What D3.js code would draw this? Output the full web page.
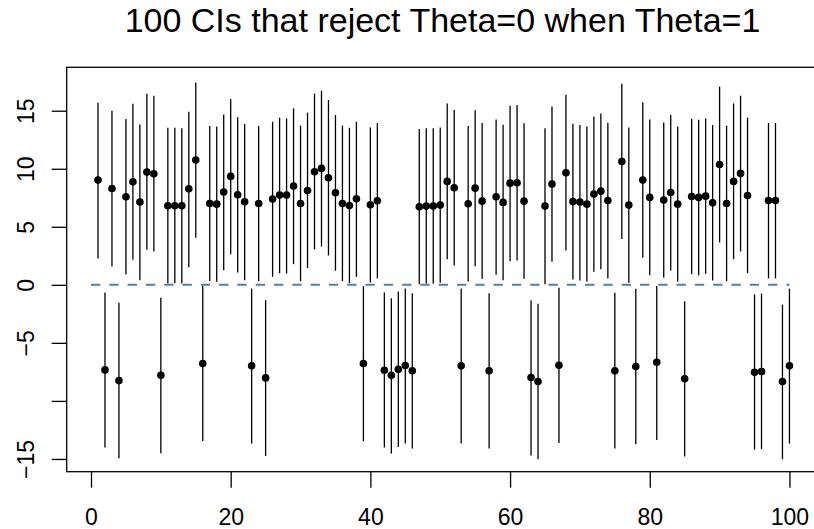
<!DOCTYPE html>
<html lang="en">
<head>
<meta charset="UTF-8">
<title>100 CIs</title>
<style>
  html, body { margin: 0; padding: 0; background: #fff; }
  svg { display: block; font-family: "Liberation Sans", Arial, sans-serif; }
</style>
</head>
<body>
<svg width="814" height="529"></svg>
<script src="https://d3js.org/d3.v7.min.js"></script>
<script>
// interval estimates, index 1..100
const centers = [
  9.02, -7.33, 8.30, -8.25, 7.59, 8.88, 7.13, 9.71, 9.57, -7.79,
  6.81, 6.81, 6.81, 8.28, 10.75, -6.78, 7.01, 6.95, 7.99, 9.34,
  7.76, 7.16, -6.98, 7.01, -8.02, 7.39, 7.73, 7.73, 8.51, 7.01,
  8.13, 9.74, 10.03, 9.22, 7.93, 7.01, 6.84, 7.41, -6.78, 6.90,
  7.24, -7.36, -7.79, -7.27, -6.95, -7.41, 6.72, 6.78, 6.78, 6.87,
  8.91, 8.36, -6.98, 6.98, 8.33, 7.21, -7.41, 7.59, 7.10, 8.76,
  8.79, 7.21, -7.99, -8.33, 6.78, 8.68, -6.93, 9.66, 7.18, 7.13,
  6.95, 7.82, 8.07, 7.27, -7.41, 10.63, 6.87, -7.04, 9.02, 7.53,
  -6.67, 7.30, 7.96, 6.95, -8.10, 7.61, 7.53, 7.64, 7.07, 10.37,
  7.01, 8.91, 9.60, 7.70, -7.53, -7.47, 7.27, 7.27, -8.33, -6.98
];
const lowers = [
  2.27, -14.02, 1.58, -14.94, 0.89, 2.16, 0.40, 3.02, 2.87, -14.51,
  0.14, 0.14, 0.11, 1.52, 4.05, -13.45, 0.32, 0.26, 1.26, 2.64,
  1.06, 0.40, -13.68, 0.32, -14.74, 0.69, 1.00, 0.98, 1.78, 0.32,
  1.44, 3.05, 3.30, 2.53, 1.21, 0.32, 0.14, 0.69, -13.48, 0.20,
  0.55, -14.02, -14.54, -13.97, -13.68, -14.11, 0.06, 0.11, 0.11, 0.17,
  2.21, 1.67, -13.68, 0.29, 1.61, 0.52, -14.11, 0.86, 0.40, 2.04,
  2.10, 0.52, -14.71, -15.03, 0.06, 1.98, -13.62, 2.96, 0.46, 0.37,
  0.26, 1.12, 1.35, 0.55, -14.11, 3.94, 0.17, -13.74, 2.33, 0.83,
  -13.36, 0.60, 1.24, 0.26, -14.80, 0.92, 0.83, 0.95, 0.37, 3.65,
  0.32, 2.21, 2.87, 1.00, -14.20, -14.14, 0.55, 0.55, -15.03, -13.68
];
const uppers = [
  15.69, -0.66, 15.00, -1.55, 14.28, 15.60, 13.82, 16.47, 16.29, -1.12,
  13.53, 13.53, 13.48, 14.91, 17.44, -0.11, 13.68, 13.65, 14.68, 16.00,
  14.43, 13.85, -0.32, 13.68, -1.32, 14.05, 14.40, 14.34, 15.20, 13.71,
  14.83, 16.47, 16.72, 15.92, 14.63, 13.71, 13.53, 14.05, -0.11, 13.56,
  13.94, -0.66, -1.15, -0.57, -0.32, -0.72, 13.42, 13.48, 13.48, 13.56,
  15.63, 15.06, -0.32, 13.68, 15.03, 13.94, -0.72, 14.25, 13.79, 15.43,
  15.49, 13.91, -1.32, -1.64, 13.48, 15.37, -0.26, 16.38, 13.88, 13.76,
  13.65, 14.51, 14.77, 13.97, -0.69, 17.33, 13.56, -0.34, 15.72, 14.25,
  -0.11, 13.99, 14.66, 13.65, -1.41, 14.31, 14.22, 14.34, 13.76, 17.07,
  13.71, 15.63, 16.29, 14.40, -0.83, -0.75, 13.94, 13.94, -1.70, -0.32
];
const theta0 = 0;
const xTicks = [0, 20, 40, 60, 80, 100];
const yTicks = [-15, -10, -5, 0, 5, 10, 15];
const yTickLabels = ["\u221215", "", "\u22125", "0", "5", "10", "15"];
const title = "100 CIs that reject Theta=0 when Theta=1";

const svg = d3.select("svg");
const plotL = 66.7, plotR = 822, plotT = 67.3, plotB = 471.7;

const x = d3.scaleLinear().domain([-3.48, 104.66]).range([plotL, plotR]);
const y = d3.scaleLinear().domain([-16.1, 18.74]).range([plotB, plotT]);

const idx = d3.range(1, centers.length + 1);

// title
svg.append("text")
    .attr("x", 442.5).attr("y", 32)
    .attr("text-anchor", "middle")
    .style("font-size", "34px")
    .text(title);

// reference line
svg.append("line")
    .attr("x1", x(0)).attr("x2", x(100))
    .attr("y1", y(theta0)).attr("y2", y(theta0))
    .attr("stroke", "#4682B4")
    .attr("stroke-width", 2)
    .attr("stroke-dasharray", "9.3,9");

// intervals
svg.append("g").selectAll("line")
    .data(idx)
    .join("line")
    .attr("x1", i => x(i)).attr("x2", i => x(i))
    .attr("y1", i => y(lowers[i - 1]))
    .attr("y2", i => y(uppers[i - 1]))
    .attr("stroke", "#000")
    .attr("stroke-width", 1.3);

// point estimates
svg.append("g").selectAll("circle")
    .data(idx)
    .join("circle")
    .attr("cx", i => x(i))
    .attr("cy", i => y(centers[i - 1]))
    .attr("r", 3.8)
    .attr("fill", "#000");

// box (right side falls outside the picture)
svg.append("rect")
    .attr("x", plotL).attr("y", plotT)
    .attr("width", plotR - plotL).attr("height", plotB - plotT)
    .attr("fill", "none")
    .attr("stroke", "#000")
    .attr("stroke-width", 1.3);

// axes
const xAxis = svg.append("g")
    .attr("transform", `translate(0,${plotB})`)
    .call(d3.axisBottom(x).tickValues(xTicks).tickSize(16).tickFormat(d3.format("d")));
xAxis.select(".domain").remove();
xAxis.selectAll("line").attr("stroke-width", 1.3);
xAxis.selectAll("text")
    .attr("y", 53.5).attr("dy", null)
    .attr("fill", "#000")
    .style("font-size", "23px")
    .style("font-family", "'Liberation Sans', Arial, sans-serif");

const yAxis = svg.append("g")
    .attr("transform", `translate(${plotL},0)`)
    .call(d3.axisLeft(y).tickValues(yTicks).tickSize(15)
        .tickFormat((d, i) => yTickLabels[i]));
yAxis.select(".domain").remove();
yAxis.selectAll("line").attr("stroke-width", 1.3);
yAxis.selectAll("text")
    .attr("transform", "rotate(-90)")
    .attr("x", 0).attr("y", -33.2).attr("dy", null)
    .attr("text-anchor", "middle")
    .attr("fill", "#000")
    .style("font-size", "23px")
    .style("font-family", "'Liberation Sans', Arial, sans-serif");
</script>
</body>
</html>
